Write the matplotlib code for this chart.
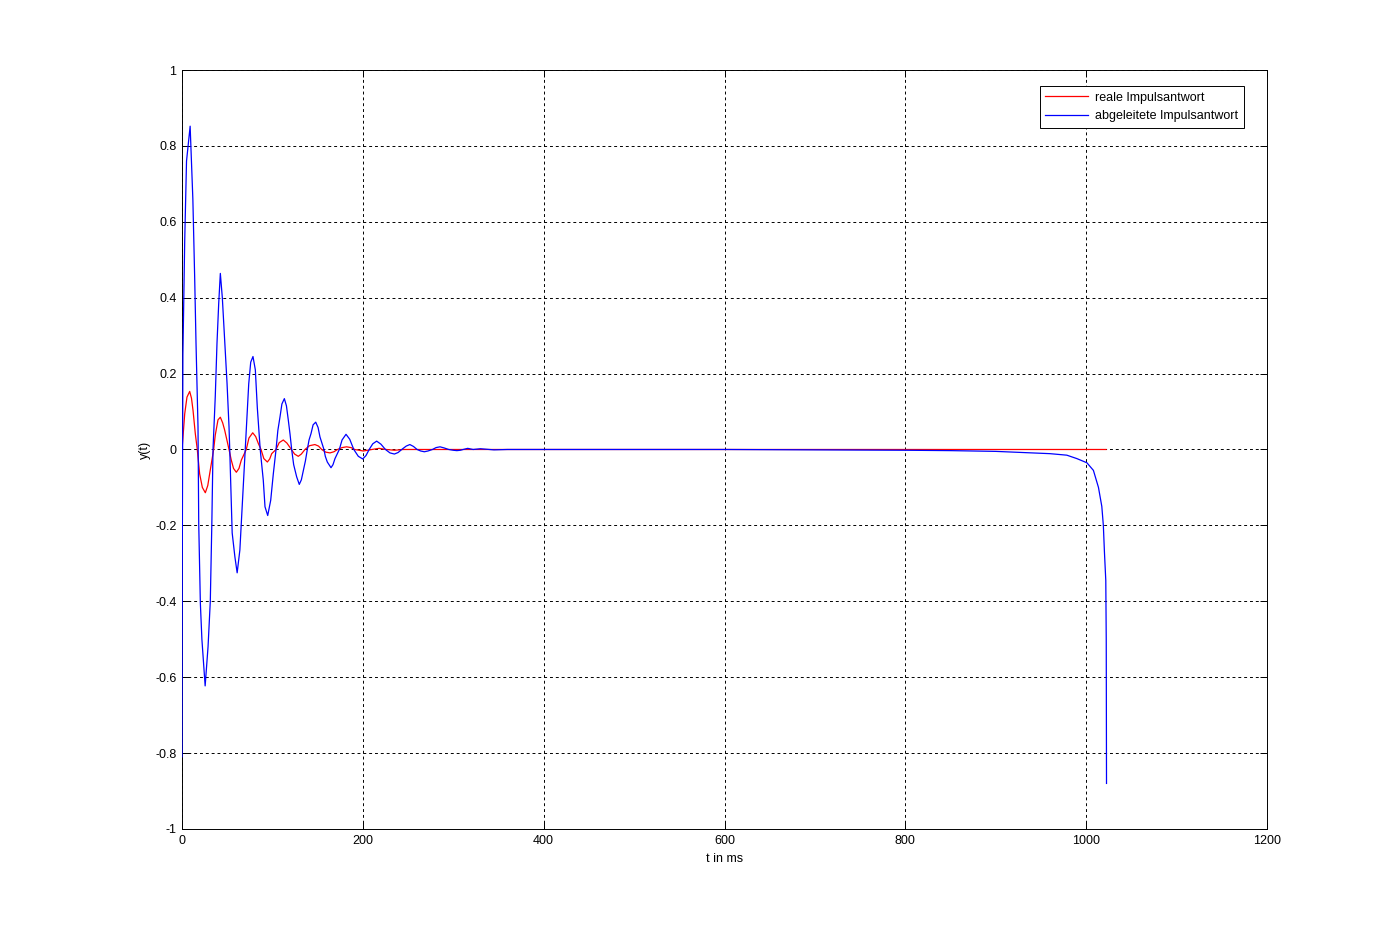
import matplotlib
matplotlib.use("Agg")
import matplotlib.pyplot as plt

real_points = [
    (0, 0), (1, 0.03), (3, 0.094), (5.5, 0.138), (8.5, 0.153), (10.5, 0.135),
    (12.2, 0.103), (14.7, 0.042), (16.9, 0), (19.5, -0.064), (22.5, -0.1),
    (25.8, -0.114), (28.5, -0.095), (30.6, -0.064), (35, 0), (36.8, 0.038),
    (39.8, 0.078), (42.4, 0.085), (45, 0.07), (47.2, 0.051), (52, 0), (54.5, -0.028),
    (57, -0.05), (60.1, -0.06), (63, -0.05), (65.6, -0.028), (71.1, 0), (74, 0.03),
    (78.2, 0.044), (81.5, 0.034), (84.4, 0.016), (87.4, 0), (90.5, -0.024),
    (94.4, -0.033), (97, -0.025), (99.2, -0.011), (104, 0), (107.5, 0.018),
    (112, 0.025), (116, 0.017), (121, 0), (124.5, -0.012), (128.6, -0.018),
    (132, -0.012), (136, 0), (141, 0.01), (147, 0.013), (151, 0.009), (154.5, 0),
    (159, -0.007), (163.7, -0.009), (168, -0.006), (172, 0), (177, 0.005),
    (182, 0.007), (187, 0.005), (191, 0), (200.5, -0.004), (210, 0), (218, 0.003),
    (226, 0), (235, -0.002), (245, 0), (260, 0), (1022, 0),
]

# derived impulse response (blue)
derived_points = [
    (0, -0.81), (0.3, -0.3), (1, 0.25), (3, 0.55), (5, 0.76), (9, 0.852), (12, 0.66),
    (14, 0.455), (15.5, 0.28), (17.7, 0.06), (18.5, -0.195), (20.3, -0.405),
    (22, -0.5), (25.6, -0.623), (28.8, -0.52), (31.3, -0.4), (33, -0.195), (34.3, 0),
    (36.8, 0.14), (38.7, 0.28), (40.6, 0.385), (42.4, 0.464), (44.6, 0.4),
    (47.2, 0.29), (49.8, 0.175), (52, 0.06), (52.8, 0), (55.5, -0.22),
    (58.5, -0.283), (61, -0.325), (64, -0.265), (66.6, -0.15), (69.6, -0.02),
    (71.1, 0.05), (73.8, 0.173), (76, 0.23), (78.5, 0.245), (81.1, 0.21),
    (83.3, 0.11), (86.5, 0), (89.9, -0.081), (91.8, -0.151), (94.8, -0.174),
    (98.1, -0.134), (101, -0.064), (104, 0), (106, 0.05), (108.4, 0.086),
    (110.5, 0.12), (113.2, 0.134), (115.5, 0.115), (117.6, 0.077), (119.5, 0.04),
    (121.3, 0), (123.5, -0.04), (126.8, -0.072), (129.7, -0.092), (132, -0.08),
    (134.2, -0.055), (136.5, -0.03), (138.6, 0), (140.5, 0.025), (142.7, 0.042),
    (145, 0.065), (147.9, 0.072), (150.5, 0.058), (152.6, 0.033), (157, 0),
    (158.5, -0.018), (160.7, -0.033), (164.8, -0.048), (167, -0.04),
    (169.2, -0.024), (174, 0), (177, 0.025), (181.4, 0.04), (185.5, 0.027),
    (190, 0), (195, -0.018), (199.9, -0.025), (203.5, -0.016), (207, 0),
    (211, 0.015), (215.3, 0.022), (220, 0.014), (225, 0), (230, -0.009),
    (234.9, -0.012), (239, -0.008), (243, 0), (248, 0.009), (252, 0.013),
    (256, 0.008), (260, 0), (264, -0.004), (268, -0.006), (272, -0.004), (277, 0),
    (281, 0.005), (285.4, 0.007), (290, 0.004), (295, 0), (300, -0.002),
    (304, -0.003), (308, -0.002), (311, 0), (316, 0.003), (322, 0), (330, 0.002),
    (345, -0.001), (360, 0), (400, 0), (600, 0), (700, -0.001), (800, -0.002),
    (850, -0.003), (900, -0.005), (930, -0.008), (960, -0.011), (978.6, -0.015),
    (989.7, -0.024), (1000.8, -0.035), (1008, -0.055), (1013.6, -0.1),
    (1017.3, -0.15), (1019, -0.2), (1020.2, -0.27), (1021.7, -0.345),
    (1022.2, -0.5), (1022.5, -0.88),
]

x_ticks = [0, 200, 400, 600, 800, 1000, 1200]
y_ticks = [-1, -0.8, -0.6, -0.4, -0.2, 0, 0.2, 0.4, 0.6, 0.8, 1]
y_ticklabels = ["-1", "-0.8", "-0.6", "-0.4", "-0.2", "0", "0.2", "0.4", "0.6", "0.8", "1"]

t_real, y_real = zip(*real_points)
t_der, y_der = zip(*derived_points)

plt.rcParams["font.family"] = ["Liberation Sans", "DejaVu Sans"]
plt.rcParams["font.size"] = 9
plt.rcParams["axes.unicode_minus"] = False

fig = plt.figure(figsize=(14, 9.31), dpi=100)
ax = fig.add_axes([0.13, 0.1096, 0.775, 0.8152])

# lines above the spines, like the MATLAB original
ax.plot(t_real, y_real, color="red", lw=0.9, label="reale Impulsantwort", zorder=3)
ax.plot(t_der, y_der, color="blue", lw=0.9, label="abgeleitete Impulsantwort", zorder=3)

ax.set_xlim(0, 1200)
ax.set_ylim(-1, 1)
ax.set_xticks(x_ticks)
ax.set_yticks(y_ticks)
ax.set_yticklabels(y_ticklabels)
ax.tick_params(direction="in", top=True, right=True, length=5, width=0.7, pad=4)
ax.grid(True, color="black", lw=0.7, linestyle=(0, (3, 3)))
for s in ax.spines.values():
    s.set_linewidth(0.7)

ax.set_xlabel("t in ms", labelpad=5)
ax.set_ylabel("y(t)", labelpad=3)

leg = ax.legend(loc="upper right", bbox_to_anchor=(0.979, 0.979), borderaxespad=0,
                fancybox=False, framealpha=1, edgecolor="black", handlelength=3.4,
                labelspacing=0.55, borderpad=0.45, handletextpad=0.6)
leg.get_frame().set_linewidth(0.7)
leg.set_zorder(5)

fig.savefig("out.png", dpi=100)
